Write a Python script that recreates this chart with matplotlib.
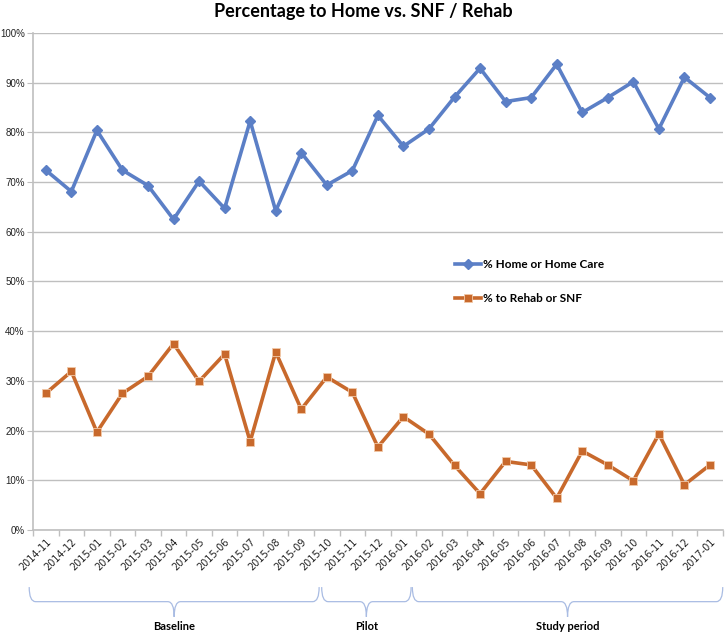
import matplotlib
matplotlib.use("Agg")
import matplotlib.pyplot as plt
import matplotlib.transforms as mtransforms
from matplotlib.path import Path
from matplotlib.patches import PathPatch
from matplotlib.ticker import PercentFormatter

# months on the x axis
months = ["2014-11", "2014-12", "2015-01", "2015-02", "2015-03", "2015-04",
          "2015-05", "2015-06", "2015-07", "2015-08", "2015-09", "2015-10",
          "2015-11", "2015-12", "2016-01", "2016-02", "2016-03", "2016-04",
          "2016-05", "2016-06", "2016-07", "2016-08", "2016-09", "2016-10",
          "2016-11", "2016-12", "2017-01"]

home_pct = [72.4, 68.1, 80.4, 72.4, 69.3, 62.5, 70.2, 64.7, 82.3, 64.2,
            75.9, 69.4, 72.3, 83.4, 77.2, 80.7, 87.1, 92.9, 86.2, 87.0,
            93.7, 84.0, 87.0, 90.2, 80.7, 91.1, 87.0]

rehab_pct = [27.5, 31.9, 19.7, 27.5, 30.9, 37.5, 29.9, 35.4, 17.8, 35.8,
             24.3, 30.8, 27.7, 16.7, 22.8, 19.3, 13.0, 7.3, 13.8, 13.1,
             6.4, 15.9, 13.1, 9.9, 19.3, 9.1, 13.1]

# study periods (start / end in category positions)
periods = ["Baseline", "Pilot", "Study period"]
period_start = [-0.65, 10.8, 14.35]
period_end = [10.7, 14.3, 26.5]

blue = "#5B7FC6"
orange = "#C8692C"
grid_col = "#BFBFBF"

fig = plt.figure(figsize=(7.26, 6.34), dpi=100)
ax = fig.add_axes([0.0455, 0.164, 0.950, 0.784])

x = list(range(len(months)))
ax.plot(x, home_pct, color=blue, lw=2.6, marker="D", ms=5.5,
        label="% Home or Home Care")
ax.plot(x, rehab_pct, color=orange, lw=2.6, marker="s", ms=6,
        markeredgecolor="#F2C9A8", markeredgewidth=0.6,
        label="% to Rehab or SNF")

ax.set_xlim(-0.5, len(months) - 0.5)
ax.set_ylim(0, 100)
ax.set_yticks(range(0, 101, 10))
ax.yaxis.set_major_formatter(PercentFormatter(decimals=0))
ax.grid(axis="y", color=grid_col, lw=1)
ax.set_axisbelow(True)

ax.set_xticks(x)
ax.set_xticklabels(months, rotation=45, ha="right", rotation_mode="anchor",
                   fontsize=7, color="#222222")
ax.set_xticks([i - 0.5 for i in range(len(months) + 1)], minor=True)
ax.tick_params(axis="x", which="major", length=0, pad=5)
ax.tick_params(axis="x", which="minor", length=4, color=grid_col, width=1)
ax.tick_params(axis="y", length=4, color=grid_col, labelsize=7,
               labelcolor="#222222", pad=2)
for lab in ax.get_yticklabels():
    lab.set_family("Liberation Sans")

for s in ["top", "right"]:
    ax.spines[s].set_visible(False)
for s in ["left", "bottom"]:
    ax.spines[s].set_color(grid_col)
    ax.spines[s].set_linewidth(1.2)

fig.suptitle("Percentage to Home vs. SNF / Rehab", fontsize=13,
             fontweight="bold", family="Lato", y=0.995)

leg = ax.legend(loc="center", bbox_to_anchor=(0.72, 0.5), frameon=False,
                handlelength=2.2, handletextpad=0.1, labelspacing=2.0,
                prop={"family": "Lato", "weight": "bold", "size": 8.5})

# braces below the axis
trans = mtransforms.blended_transform_factory(ax.transData, fig.transFigure)
y_top, y_mid, y_tip, y_lab = 0.074, 0.051, 0.027, 0.012
dx = 0.25
for name, x0, x1 in zip(periods, period_start, period_end):
    xm = (x0 + x1) / 2
    verts = [(x0, y_top), (x0, y_mid), (x0 + dx, y_mid),
             (xm - dx, y_mid),
             (xm, y_mid), (xm, y_tip),
             (xm, y_mid), (xm + dx, y_mid),
             (x1 - dx, y_mid),
             (x1, y_mid), (x1, y_top)]
    codes = [Path.MOVETO, Path.CURVE3, Path.CURVE3, Path.LINETO,
             Path.CURVE3, Path.CURVE3, Path.CURVE3, Path.CURVE3,
             Path.LINETO, Path.CURVE3, Path.CURVE3]
    patch = PathPatch(Path(verts, codes), transform=trans, fill=False,
                      edgecolor="#A9BCE3", lw=0.9, clip_on=False)
    fig.add_artist(patch)
    fig.text(xm, y_lab, name, transform=trans, ha="center", va="center",
             fontsize=8, fontweight="bold", family="Lato")

fig.savefig("out.png", dpi=100)
